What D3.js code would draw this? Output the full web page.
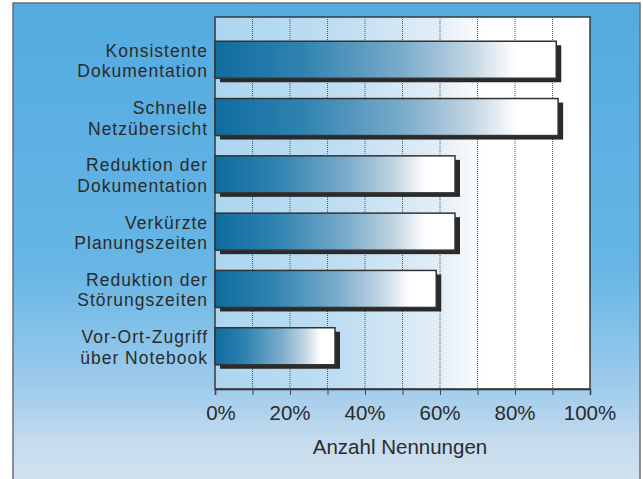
<!DOCTYPE html>
<html><head><meta charset="utf-8">
<script src="https://cdn.jsdelivr.net/npm/d3@7"></script>
<style>body{margin:0;background:#fff}svg{display:block}text{font-family:"Liberation Sans",Arial,sans-serif;fill:#2b2b2b}</style>
</head><body><svg id="c" width="643" height="479"></svg>
<script>
const categories = [["Konsistente","Dokumentation"],["Schnelle","Netzübersicht"],["Reduktion der","Dokumentation"],["Verkürzte","Planungszeiten"],["Reduktion der","Störungszeiten"],["Vor-Ort-Zugriff","über Notebook"]];
const values = [91, 91.5, 64, 64, 59, 32];
const tickValues = [0,20,40,60,80,100];
const xTitle = "Anzahl Nennungen";

const svg = d3.select("#c");
const defs = svg.append("defs");
const bg = defs.append("linearGradient").attr("id","bg").attr("x1",0).attr("y1",0).attr("x2",0).attr("y2",1);
[[0,"#53abe0"],[0.55,"#66b5e5"],[0.8,"#9fcbec"],[0.92,"#c6dcee"],[1,"#d2e1ee"]].forEach(s=>bg.append("stop").attr("offset",s[0]).attr("stop-color",s[1]));
const pg = defs.append("linearGradient").attr("id","pg").attr("x1",0).attr("y1",0).attr("x2",1).attr("y2",0);
[[0,"#acd6f0"],[0.35,"#c0def2"],[0.6,"#e3eef6"],[0.72,"#ffffff"],[1,"#ffffff"]].forEach(s=>pg.append("stop").attr("offset",s[0]).attr("stop-color",s[1]));
const bgr = defs.append("linearGradient").attr("id","bar").attr("x1",0).attr("y1",0).attr("x2",1).attr("y2",0);
[[0,"#0f6c9e"],[0.25,"#2e82b0"],[0.55,"#7aaccb"],[0.75,"#c3d5e3"],[0.88,"#ffffff"],[1,"#ffffff"]].forEach(s=>bgr.append("stop").attr("offset",s[0]).attr("stop-color",s[1]));

svg.append("rect").attr("x",13).attr("y",3).attr("width",627).attr("height",480).attr("fill","url(#bg)").attr("stroke","#6e6e73").attr("stroke-width",1.5);

const L=215, R=590, T=17, B=389;
const x = d3.scaleLinear().domain([0,100]).range([L,R]);
const y = d3.scaleBand().domain(d3.range(categories.length)).range([T,B]).paddingInner(0.354).paddingOuter(0.423);

svg.append("rect").attr("x",L).attr("y",T).attr("width",R-L).attr("height",B-T).attr("fill","url(#pg)").attr("stroke","#3a3a3a").attr("stroke-width",1.5);

svg.append("g").selectAll("line").data(d3.range(10,100,10)).join("line")
  .attr("x1",d=>x(d)).attr("x2",d=>x(d)).attr("y1",T).attr("y2",B)
  .attr("stroke","#555").attr("stroke-width",1).attr("stroke-dasharray","1,1");

const bars = svg.append("g").selectAll("g").data(values).join("g");
bars.append("rect").attr("x",L+5).attr("y",(d,i)=>y(i)+4).attr("width",d=>x(d)-L).attr("height",y.bandwidth()).attr("fill","#2a2a2a");
bars.append("rect").attr("x",L).attr("y",(d,i)=>y(i)).attr("width",d=>x(d)-L).attr("height",y.bandwidth()).attr("fill","url(#bar)").attr("stroke","#333").attr("stroke-width",1.5);

const ax = svg.append("g").attr("transform",`translate(0,${B})`)
  .call(d3.axisBottom(x).tickValues(d3.range(0,101,10)).tickSize(6).tickFormat(""));
ax.select(".domain").attr("stroke","#333").attr("stroke-width",1.5);
ax.selectAll(".tick line").attr("stroke","#444");

svg.append("g").selectAll("text").data(tickValues).join("text")
  .attr("x",d=>x(d)+(d===0?6:0)).attr("y",420).attr("text-anchor","middle").attr("font-size",20.5).text(d=>d+"%");

svg.append("text").attr("x",400).attr("y",454).attr("text-anchor","middle").attr("font-size",20.5).text(xTitle);

const labG = svg.append("g").selectAll("g").data(categories).join("g");
labG.append("text").attr("text-anchor","end").attr("font-size",17.5).attr("letter-spacing","1px")
  .attr("x",208).attr("y",(d,i)=>y(i)+y.bandwidth()/2-3).text(d=>d[0]);
labG.append("text").attr("text-anchor","end").attr("font-size",17.5).attr("letter-spacing","1px")
  .attr("x",208).attr("y",(d,i)=>y(i)+y.bandwidth()/2+17.5).text(d=>d[1]);
</script></body></html>
